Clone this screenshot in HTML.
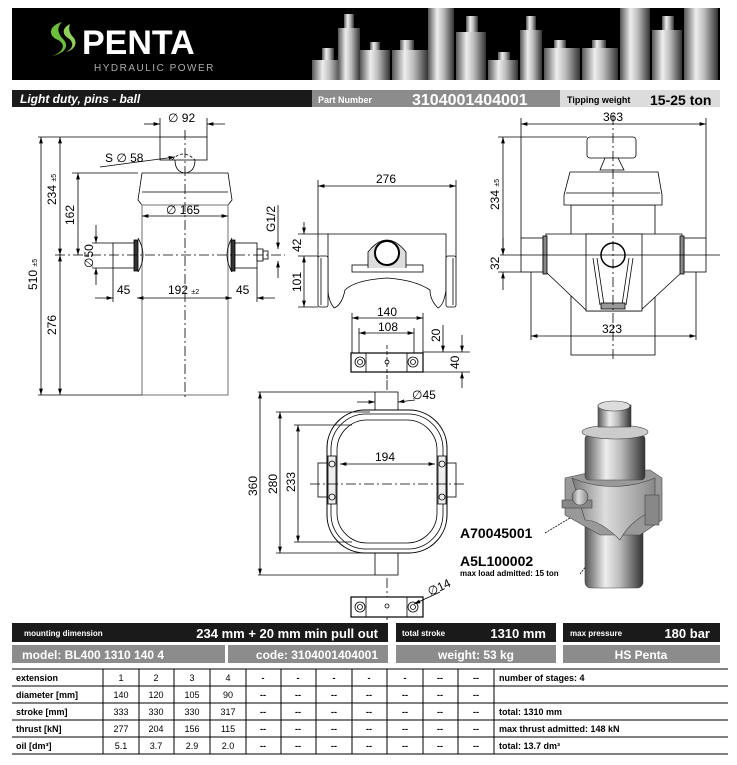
<!DOCTYPE html>
<html><head><meta charset="utf-8"><style>
body{margin:0;background:#fff;width:737px;height:760px;overflow:hidden;font-family:"Liberation Sans",sans-serif}
svg text{font-family:"Liberation Sans Narrow","Liberation Sans",sans-serif}
</style></head><body>
<svg width="737" height="760" viewBox="0 0 737 760" xmlns="http://www.w3.org/2000/svg">
<defs>
<linearGradient id="cy" x1="0" x2="1"><stop offset="0" stop-color="#555"/><stop offset="0.35" stop-color="#eee"/><stop offset="0.6" stop-color="#bbb"/><stop offset="1" stop-color="#333"/></linearGradient>
<linearGradient id="g3" x1="0" x2="1"><stop offset="0" stop-color="#777"/><stop offset="0.4" stop-color="#ddd"/><stop offset="1" stop-color="#888"/></linearGradient>
<marker id="a" viewBox="0 0 10 6" refX="10" refY="3" markerWidth="8" markerHeight="5" orient="auto-start-reverse"><path d="M0 0L10 3L0 6z" fill="#000"/></marker>
</defs>
<!-- header -->
<rect x="12" y="8" width="708" height="72" fill="#000"/>
<path d="M62 22c-14 4-14 14-4 18c8 4 6 12-6 16c10-2 18-8 12-16c-6-6-8-12-2-18z" fill="#6cbf3c"/>
<path d="M70 24c-8 4-8 10 -2 14c6 4 6 10 -2 14c8-2 12-8 8-14c-4-4-6-8-4-14z" fill="#8fd05a"/>
<text x="82" y="54" fill="#fff" font-size="34" font-weight="bold" style="font-family:'Liberation Sans',sans-serif">PENTA</text>
<text x="94" y="71" fill="#aaa" font-size="10" letter-spacing="1.5" style="font-family:'Liberation Sans',sans-serif">HYDRAULIC POWER</text>
<g fill="url(#cy)">
<rect x="312" y="60" width="30" height="20"/><rect x="322" y="48" width="12" height="12"/>
<rect x="338" y="28" width="22" height="52"/><rect x="344" y="14" width="10" height="14"/>
<rect x="360" y="50" width="30" height="30"/><rect x="370" y="42" width="10" height="8"/>
<rect x="392" y="50" width="36" height="30"/><rect x="400" y="40" width="14" height="10"/>
<rect x="428" y="8" width="26" height="72"/><rect x="456" y="32" width="30" height="48"/><rect x="466" y="16" width="12" height="16"/>
<rect x="488" y="60" width="30" height="20"/><rect x="498" y="52" width="12" height="8"/>
<rect x="520" y="30" width="22" height="50"/><rect x="526" y="16" width="10" height="14"/>
<rect x="544" y="48" width="36" height="32"/><rect x="554" y="40" width="12" height="8"/>
<rect x="582" y="48" width="36" height="32"/><rect x="592" y="40" width="14" height="8"/>
<rect x="620" y="8" width="30" height="72"/><rect x="652" y="30" width="30" height="50"/><rect x="662" y="16" width="12" height="14"/>
<rect x="684" y="8" width="34" height="72"/>
</g>
<!-- title bar -->
<rect x="12" y="90" width="300" height="17" fill="#1a1a1a"/>
<rect x="312" y="90" width="248" height="17" fill="#8c8c8c"/>
<rect x="560" y="90" width="160" height="17" fill="#dcdcdc"/>
<text x="20" y="103" fill="#fff" font-size="12" font-weight="bold" font-style="italic">Light duty, pins - ball</text>
<text x="318" y="103" fill="#fff" font-size="9" font-weight="bold">Part Number</text>
<text x="412" y="105" fill="#fff" font-size="16" font-weight="bold">3104001404001</text>
<text x="567" y="103" fill="#000" font-size="9" font-weight="bold">Tipping weight</text>
<text x="650" y="105" fill="#000" font-size="14" font-weight="bold">15-25 ton</text>

<g stroke="#000" stroke-width="0.8" fill="none">
<!-- LEFT VIEW -->
<rect x="160" y="137" width="47" height="23" fill="#fff"/>
<path d="M172 160 Q183 148 195 160" stroke-dasharray="3 2"/>
<path d="M175 160 Q175 172 185 173 Q195 172 195 160"/>
<path d="M142 173 L228 173 L232 200 L228 205 L142 205 L138 200 Z" fill="#fff"/>
<line x1="142" y1="192" x2="228" y2="192"/>
<rect x="142" y="205" width="86" height="190" stroke="#888" stroke-width="1.2"/>
<rect x="113" y="243" width="24" height="25" fill="#fff"/><rect x="134" y="240" width="4" height="31" fill="#333"/>
<path d="M138 238 Q148 255 138 272"/>
<rect x="233" y="243" width="24" height="25" fill="#fff"/><rect x="231" y="240" width="4" height="31" fill="#333"/>
<path d="M232 238 Q222 255 232 272"/>
<rect x="257" y="249" width="6" height="12"/><rect x="263" y="251" width="5" height="8"/>
<line x1="185" y1="130" x2="185" y2="400" stroke-dasharray="10 3 2 3"/>
<line x1="55" y1="255" x2="285" y2="255" stroke-dasharray="10 3 2 3"/>
<!-- dims -->
<line x1="41" y1="137" x2="41" y2="395" marker-start="url(#a)" marker-end="url(#a)"/>
<line x1="60" y1="137" x2="60" y2="255" marker-start="url(#a)" marker-end="url(#a)"/>
<line x1="60" y1="255" x2="60" y2="395" marker-start="url(#a)" marker-end="url(#a)"/>
<line x1="78" y1="173" x2="78" y2="255" marker-start="url(#a)" marker-end="url(#a)"/>
<line x1="38" y1="137" x2="160" y2="137"/><line x1="38" y1="395" x2="142" y2="395"/><line x1="72" y1="173" x2="138" y2="173"/>
<line x1="96" y1="225" x2="96" y2="243" marker-end="url(#a)"/><line x1="96" y1="285" x2="96" y2="268" marker-end="url(#a)"/>
<line x1="92" y1="243" x2="113" y2="243"/><line x1="92" y1="268" x2="113" y2="268"/>
<line x1="144" y1="124" x2="160" y2="124" marker-end="url(#a)"/><line x1="225" y1="124" x2="207" y2="124" marker-end="url(#a)"/>
<line x1="160" y1="118" x2="160" y2="137"/><line x1="207" y1="118" x2="207" y2="137"/>
<line x1="142" y1="216" x2="228" y2="216" marker-start="url(#a)" marker-end="url(#a)"/>
<line x1="100" y1="167" x2="175" y2="157" marker-end="url(#a)"/>
<line x1="95" y1="298" x2="113" y2="298" marker-end="url(#a)"/><line x1="137" y1="298" x2="232" y2="298" marker-start="url(#a)" marker-end="url(#a)"/><line x1="275" y1="298" x2="257" y2="298" marker-end="url(#a)"/>
<line x1="113" y1="268" x2="113" y2="302"/><line x1="257" y1="268" x2="257" y2="302"/>
<line x1="278" y1="205" x2="278" y2="249" marker-end="url(#a)"/><line x1="278" y1="278" x2="278" y2="261" marker-end="url(#a)"/>
<!-- MIDDLE bracket -->
<line x1="318" y1="186" x2="456" y2="186" marker-start="url(#a)" marker-end="url(#a)"/>
<line x1="318" y1="180" x2="318" y2="258"/><line x1="456" y1="180" x2="456" y2="258"/>
<path d="M328 234 L446 234 L446 290 Q444 305 438 308 Q430 300 430 290 Q415 280 387 278 Q355 280 345 290 Q342 305 334 308 Q328 300 328 290 Z" fill="#fff"/>
<rect x="318" y="256" width="10" height="51" rx="2" fill="#fff"/><rect x="446" y="256" width="10" height="51" rx="2" fill="#fff"/>
<line x1="321" y1="258" x2="321" y2="305"/><line x1="453" y1="258" x2="453" y2="305"/>
<rect x="352" y="265" width="71" height="7" fill="#fff"/>
<path d="M368 268 L368 252 Q387 228 406 252 L406 268" fill="#ddd"/>
<circle cx="387" cy="253" r="12" fill="#fff" stroke-width="2"/>
<line x1="298" y1="234" x2="328" y2="234"/><line x1="298" y1="256" x2="318" y2="256"/><line x1="298" y1="307" x2="318" y2="307"/>
<line x1="304" y1="222" x2="304" y2="234" marker-end="url(#a)"/><line x1="304" y1="256" x2="304" y2="307" marker-start="url(#a)" marker-end="url(#a)"/>
<line x1="352" y1="318" x2="423" y2="318" marker-start="url(#a)" marker-end="url(#a)"/>
<line x1="359" y1="333" x2="414" y2="333" marker-start="url(#a)" marker-end="url(#a)"/>
<line x1="352" y1="313" x2="352" y2="353"/><line x1="423" y1="313" x2="423" y2="353"/>
<line x1="359" y1="328" x2="359" y2="353"/><line x1="414" y1="328" x2="414" y2="353"/>
<rect x="351" y="353" width="72" height="19" fill="#fff" stroke-width="1.2"/>
<circle cx="360" cy="362" r="5"/><circle cx="360" cy="362" r="2.5"/><circle cx="413" cy="362" r="5"/><circle cx="413" cy="362" r="2.5"/>
<line x1="366" y1="353" x2="366" y2="372"/><line x1="407" y1="353" x2="407" y2="372"/><circle cx="387" cy="362" r="2"/>
<line x1="387" y1="345" x2="387" y2="380" stroke-dasharray="4 2"/>
<line x1="423" y1="352" x2="470" y2="352"/><line x1="423" y1="372" x2="470" y2="372"/>
<line x1="443" y1="325" x2="443" y2="352" marker-end="url(#a)"/>
<line x1="462" y1="335" x2="462" y2="352" marker-end="url(#a)"/><line x1="462" y1="388" x2="462" y2="372" marker-end="url(#a)"/>
<!-- RIGHT view -->
<line x1="521" y1="124" x2="706" y2="124" marker-start="url(#a)" marker-end="url(#a)"/>
<line x1="521" y1="118" x2="521" y2="238"/><line x1="706" y1="118" x2="706" y2="238"/>
<rect x="571" y="205" width="84" height="150" fill="#fff"/>
<rect x="587" y="137" width="49" height="21" rx="3" fill="#fff"/>
<path d="M605 158 L618 158 L624 170 L600 170 Z" fill="#fff"/>
<path d="M570 172 L658 172 L662 195 L662 205 L564 205 L564 195 Z" fill="#fff"/>
<line x1="566" y1="193" x2="660" y2="193"/>
<path d="M546 234 L682 234 L682 272 L640 311 L587 311 L546 272 Z" fill="#fff"/>
<rect x="586" y="234" width="56" height="77" fill="#fff"/>
<rect x="521" y="238" width="22" height="34" fill="#fff"/><rect x="543" y="236" width="4" height="38" fill="#888"/>
<rect x="684" y="238" width="22" height="34" fill="#fff"/><rect x="680" y="236" width="4" height="38" fill="#888"/>
<circle cx="613" cy="255" r="12" fill="#fff" stroke-width="1.5"/>
<path d="M593 258 L600 305 M633 258 L626 305 M597 258 L604 305 M629 258 L622 305"/>
<rect x="601" y="303" width="24" height="6" fill="#999"/>
<line x1="613" y1="115" x2="613" y2="360" stroke-dasharray="10 3 2 3"/>
<line x1="500" y1="255" x2="720" y2="255"/>
<line x1="498" y1="137" x2="587" y2="137"/><line x1="498" y1="272" x2="521" y2="272"/>
<line x1="503" y1="137" x2="503" y2="255" marker-start="url(#a)" marker-end="url(#a)"/>
<line x1="503" y1="238" x2="503" y2="255" marker-end="url(#a)"/><line x1="503" y1="290" x2="503" y2="272" marker-end="url(#a)"/>
<line x1="531" y1="336" x2="696" y2="336" marker-start="url(#a)" marker-end="url(#a)"/>
<line x1="531" y1="272" x2="531" y2="340"/><line x1="696" y1="272" x2="696" y2="340"/>
<!-- RING view -->
<line x1="387" y1="380" x2="387" y2="620" stroke-dasharray="10 3 2 3"/>
<rect x="375" y="392" width="23" height="22" fill="#fff"/>
<rect x="375" y="553" width="23" height="22" fill="#fff"/>
<rect x="318" y="463" width="12" height="34" fill="#fff"/><rect x="444" y="463" width="12" height="34" fill="#fff"/>
<rect x="327" y="410" width="120" height="143" rx="38" fill="#fff" stroke-width="1"/>
<rect x="331" y="414" width="112" height="135" rx="35"/>
<rect x="337" y="420" width="100" height="123" rx="30" fill="#fff"/>
<rect x="328" y="456" width="8" height="48" fill="#eee"/><rect x="438" y="456" width="8" height="48" fill="#eee"/>
<circle cx="332" cy="464" r="3"/><circle cx="332" cy="497" r="3"/><circle cx="442" cy="464" r="3"/><circle cx="442" cy="497" r="3"/>
<line x1="310" y1="484" x2="465" y2="484" stroke-dasharray="10 3 2 3"/>
<line x1="340" y1="464" x2="435" y2="464" marker-start="url(#a)" marker-end="url(#a)"/>
<line x1="258" y1="392" x2="375" y2="392"/><line x1="258" y1="575" x2="375" y2="575"/>
<line x1="276" y1="412" x2="370" y2="412"/><line x1="276" y1="553" x2="370" y2="553"/>
<line x1="294" y1="425" x2="352" y2="425"/><line x1="294" y1="542" x2="352" y2="542"/>
<line x1="260" y1="392" x2="260" y2="575" marker-start="url(#a)" marker-end="url(#a)"/>
<line x1="280" y1="412" x2="280" y2="553" marker-start="url(#a)" marker-end="url(#a)"/>
<line x1="298" y1="425" x2="298" y2="542" marker-start="url(#a)" marker-end="url(#a)"/>
<line x1="357" y1="402" x2="375" y2="402" marker-end="url(#a)"/><line x1="415" y1="400" x2="398" y2="402" marker-end="url(#a)"/>
<rect x="351" y="597" width="72" height="20" fill="#fff" stroke-width="1.2"/>
<circle cx="360" cy="607" r="5"/><circle cx="360" cy="607" r="2.5"/><circle cx="413" cy="607" r="5"/><circle cx="413" cy="607" r="2.5"/>
<line x1="366" y1="597" x2="366" y2="617"/><line x1="407" y1="597" x2="407" y2="617"/><circle cx="387" cy="606" r="2"/>
<line x1="440" y1="592" x2="414" y2="604" marker-end="url(#a)"/>
<!-- leaders -->
<line x1="545" y1="533" x2="570" y2="518" stroke-dasharray="2 1"/>
<line x1="580" y1="574" x2="625" y2="515" stroke-dasharray="2 1"/>
</g>
<!-- 3D render -->
<g stroke="#444" stroke-width="0.6">
<rect x="585" y="470" width="58" height="118" rx="6" fill="url(#cy)"/>
<path d="M565 478 L600 470 L650 470 L662 478 L662 520 L640 535 L600 535 L565 515 Z" fill="#999"/>
<path d="M572 478 Q613 495 655 478 L655 510 Q630 520 620 540 Q600 520 585 520 Z" fill="url(#g3)"/>
<rect x="585" y="435" width="60" height="45" rx="4" fill="url(#cy)"/>
<ellipse cx="615" cy="432" rx="33" ry="7" fill="#ccc"/>
<rect x="598" y="405" width="33" height="22" fill="url(#cy)"/><ellipse cx="614" cy="406" rx="16" ry="5" fill="#ddd"/>
<rect x="562" y="500" width="30" height="8" fill="#888"/>
<circle cx="580" cy="497" r="8" fill="url(#g3)"/>
<rect x="645" y="495" width="14" height="30" fill="#888"/>
</g>
<!-- labels -->
<g font-size="12" fill="#000">
<text x="168" y="122">∅ 92</text>
<text x="105" y="162">S ∅ 58</text>
<text x="166" y="214">∅ 165</text>
<text x="117" y="294">45</text>
<text x="168" y="294">192 <tspan font-size="7">±2</tspan></text>
<text x="236" y="294">45</text>
<text transform="translate(37,290) rotate(-90)">510 <tspan font-size="7">±5</tspan></text>
<text transform="translate(56,205) rotate(-90)">234 <tspan font-size="7">±5</tspan></text>
<text transform="translate(56,335) rotate(-90)">276</text>
<text transform="translate(74,225) rotate(-90)">162</text>
<text transform="translate(93,268) rotate(-90)">∅50</text>
<text transform="translate(275,232) rotate(-90)">G1/2</text>
<text transform="translate(301,252) rotate(-90)">42</text>
<text transform="translate(301,292) rotate(-90)">101</text>
<text x="376" y="183">276</text>
<text x="377" y="316">140</text>
<text x="378" y="331">108</text>
<text transform="translate(440,342) rotate(-90)">20</text>
<text transform="translate(459,369) rotate(-90)">40</text>
<text x="603" y="121">363</text>
<text transform="translate(499,210) rotate(-90)">234 <tspan font-size="7">±5</tspan></text>
<text transform="translate(499,270) rotate(-90)">32</text>
<text x="602" y="333">323</text>
<text x="375" y="461">194</text>
<text x="412" y="399">∅45</text>
<text transform="translate(257,496) rotate(-90)">360</text>
<text transform="translate(277,494) rotate(-90)">280</text>
<text transform="translate(295,492) rotate(-90)">233</text>
<text transform="translate(430,596) rotate(-25)">∅14</text>
<text x="460" y="538" font-size="14" font-weight="bold">A70045001</text>
<text x="460" y="566" font-size="14" font-weight="bold">A5L100002</text>
<text x="460" y="576" font-size="8" font-weight="bold">max load admitted: 15 ton</text>
</g>
<!-- spec bars -->
<rect x="12" y="623" width="376" height="19" fill="#1a1a1a"/>
<rect x="396" y="623" width="160" height="19" fill="#1a1a1a"/>
<rect x="563" y="623" width="157" height="19" fill="#1a1a1a"/>
<rect x="12" y="645" width="213" height="18" fill="#8c8c8c"/>
<rect x="228" y="645" width="160" height="18" fill="#8c8c8c"/>
<rect x="396" y="645" width="160" height="18" fill="#8c8c8c"/>
<rect x="563" y="645" width="157" height="18" fill="#8c8c8c"/>
<g fill="#fff" font-weight="bold">
<text x="24" y="636" font-size="8">mounting dimension</text>
<text x="378" y="638" font-size="13" text-anchor="end">234 mm + 20 mm min pull out</text>
<text x="402" y="636" font-size="8">total stroke</text>
<text x="546" y="638" font-size="13" text-anchor="end">1310 mm</text>
<text x="570" y="636" font-size="8">max pressure</text>
<text x="710" y="638" font-size="13" text-anchor="end">180 bar</text>
<text x="22" y="659" font-size="12">model: BL400 1310 140 4</text>
<text x="378" y="659" font-size="12" text-anchor="end">code: 3104001404001</text>
<text x="476" y="659" font-size="12" text-anchor="middle">weight: 53 kg</text>
<text x="641" y="659" font-size="12" text-anchor="middle">HS Penta</text>
</g>
<!-- table -->
<g stroke="#000" stroke-width="1">
<line x1="12" y1="669" x2="728" y2="669"/><line x1="12" y1="686" x2="728" y2="686"/><line x1="12" y1="703" x2="728" y2="703"/>
<line x1="12" y1="720" x2="728" y2="720"/><line x1="12" y1="737" x2="728" y2="737"/><line x1="12" y1="754" x2="728" y2="754"/>
<line x1="103" y1="669" x2="103" y2="754"/><line x1="139" y1="669" x2="139" y2="754"/><line x1="174" y1="669" x2="174" y2="754"/>
<line x1="210" y1="669" x2="210" y2="754"/><line x1="246" y1="669" x2="246" y2="754"/><line x1="281" y1="669" x2="281" y2="754"/>
<line x1="316" y1="669" x2="316" y2="754"/><line x1="352" y1="669" x2="352" y2="754"/><line x1="387" y1="669" x2="387" y2="754"/>
<line x1="423" y1="669" x2="423" y2="754"/><line x1="458" y1="669" x2="458" y2="754"/><line x1="494" y1="669" x2="494" y2="754"/>
</g>
<g font-size="9" font-weight="bold" fill="#000">
<text x="16" y="681">extension</text><text x="16" y="698">diameter [mm]</text><text x="16" y="715">stroke [mm]</text><text x="16" y="732">thrust [kN]</text><text x="16" y="749">oil [dm³]</text>
<text x="499" y="681">number of stages: 4</text><text x="499" y="715">total: 1310 mm</text><text x="499" y="732">max thrust admitted: 148 kN</text><text x="499" y="749">total: 13.7 dm³</text>
</g>
<g font-size="9" fill="#000" text-anchor="middle">
<text x="121" y="681">1</text><text x="156" y="681">2</text><text x="192" y="681">3</text><text x="228" y="681">4</text>
<text x="121" y="698">140</text><text x="156" y="698">120</text><text x="192" y="698">105</text><text x="228" y="698">90</text>
<text x="121" y="715">333</text><text x="156" y="715">330</text><text x="192" y="715">330</text><text x="228" y="715">317</text>
<text x="121" y="732">277</text><text x="156" y="732">204</text><text x="192" y="732">156</text><text x="228" y="732">115</text>
<text x="121" y="749">5.1</text><text x="156" y="749">3.7</text><text x="192" y="749">2.9</text><text x="228" y="749">2.0</text>
<g font-weight="bold">
<text x="263" y="681">-</text><text x="298" y="681">-</text><text x="334" y="681">-</text><text x="369" y="681">-</text><text x="405" y="681">-</text><text x="440" y="681">--</text><text x="476" y="681">--</text>
<text x="263" y="698">--</text><text x="298" y="698">--</text><text x="334" y="698">--</text><text x="369" y="698">--</text><text x="405" y="698">--</text><text x="440" y="698">--</text><text x="476" y="698">--</text>
<text x="263" y="715">--</text><text x="298" y="715">--</text><text x="334" y="715">--</text><text x="369" y="715">--</text><text x="405" y="715">--</text><text x="440" y="715">--</text><text x="476" y="715">--</text>
<text x="263" y="732">--</text><text x="298" y="732">--</text><text x="334" y="732">--</text><text x="369" y="732">--</text><text x="405" y="732">--</text><text x="440" y="732">--</text><text x="476" y="732">--</text>
<text x="263" y="749">--</text><text x="298" y="749">--</text><text x="334" y="749">--</text><text x="369" y="749">--</text><text x="405" y="749">--</text><text x="440" y="749">--</text><text x="476" y="749">--</text>
</g></g>
</svg>
</body></html>
